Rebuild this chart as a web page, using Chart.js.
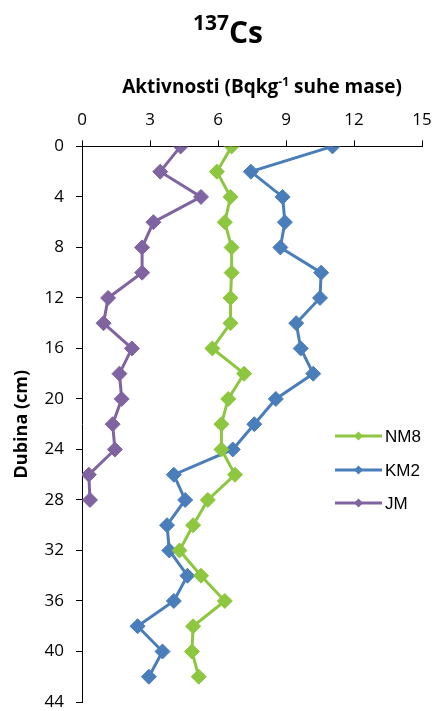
<!DOCTYPE html>
<html>
<head>
<meta charset="utf-8">
<title>137Cs</title>
<script src="https://cdn.jsdelivr.net/npm/chart.js@4.4.1/dist/chart.umd.min.js"></script>
<style>
    html, body { margin: 0; padding: 0; background: #fff; }
    #wrap { position: relative; width: 437px; height: 711px; }
</style>
</head>
<body>
<div id="wrap"><canvas id="csChart"></canvas></div>
<script>
// depth (cm) of each sample
const depths = [0, 2, 4, 6, 8, 10, 12, 14, 16, 18, 20, 22, 24, 26, 28, 30, 32, 34, 36, 38, 40, 42];
const jmDepths = [0, 2, 4, 6, 8, 10, 12, 14, 16, 18, 20, 22, 24, 26, 28];

// activity (Bq/kg dry mass)
const nm8 = [6.6, 5.95, 6.55, 6.3, 6.6, 6.6, 6.55, 6.55, 5.75, 7.15, 6.45, 6.15, 6.15, 6.75, 5.55, 4.9, 4.3, 5.25, 6.3, 4.9, 4.85, 5.15];
const km2 = [11.05, 7.45, 8.85, 8.95, 8.75, 10.55, 10.5, 9.45, 9.65, 10.2, 8.55, 7.6, 6.65, 4.05, 4.55, 3.75, 3.85, 4.65, 4.05, 2.45, 3.55, 2.95];
const jm = [4.35, 3.45, 5.25, 3.15, 2.65, 2.65, 1.15, 0.95, 2.2, 1.65, 1.75, 1.35, 1.45, 0.3, 0.35];

const xTickValues = [0, 3, 6, 9, 12, 15];
const yTickValues = [0, 4, 8, 12, 16, 20, 24, 28, 32, 36, 40, 44];

const seriesNames = ['NM8', 'KM2', 'JM'];
const seriesColors = ['#8DC63F', '#4A7EBB', '#8064A2'];

const toPoints = (vals, ds) => vals.map((v, i) => ({ x: v, y: ds[i] }));

function makeSeries(name, vals, ds, color) {
    return {
        label: name,
        data: toPoints(vals, ds),
        borderColor: color,
        backgroundColor: color,
        borderWidth: 3,
        pointStyle: 'rectRot',
        pointRadius: 7.5,
        pointBorderWidth: 1,
        pointBackgroundColor: color,
        pointBorderColor: color,
        tension: 0,
    };
}

// title, x axis title and the floating legend
const decorPlugin = {
    id: 'decor',
    afterDraw(chart) {
        const ctx = chart.ctx;
        ctx.save();
        ctx.fillStyle = '#000';
        ctx.textBaseline = 'alphabetic';
        ctx.textAlign = 'left';

        // title: 137Cs
        ctx.font = 'bold 21px "Open Sans"';
        const supW = ctx.measureText('137').width;
        ctx.font = 'bold 30px "Open Sans"';
        const mainW = ctx.measureText('Cs').width;
        let tx = 228 - (supW + mainW) / 2;
        ctx.font = 'bold 21px "Open Sans"';
        ctx.fillText('137', tx, 30);
        ctx.font = 'bold 30px "Open Sans"';
        ctx.fillText('Cs', tx + supW, 43);

        // x axis title with superscript -1
        const parts = [['Aktivnosti (Bqkg', 19, 0], ['-1', 12, -7], [' suhe mase)', 19, 0]];
        let total = 0;
        parts.forEach(p => { ctx.font = 'bold ' + p[1] + 'px "Open Sans"'; total += ctx.measureText(p[0]).width; });
        let ax = 262 - total / 2;
        parts.forEach(p => {
            ctx.font = 'bold ' + p[1] + 'px "Open Sans"';
            ctx.fillText(p[0], ax, 93 + p[2]);
            ax += ctx.measureText(p[0]).width;
        });

        // legend
        const legendY = [436, 470, 503];
        chart.data.datasets.forEach((ds, i) => {
            const y = legendY[i];
            ctx.strokeStyle = ds.borderColor;
            ctx.lineWidth = 3;
            ctx.beginPath();
            ctx.moveTo(335, y);
            ctx.lineTo(382, y);
            ctx.stroke();
            ctx.fillStyle = ds.borderColor;
            ctx.beginPath();
            ctx.moveTo(358.5 - 4.5, y);
            ctx.lineTo(358.5, y - 4.5);
            ctx.lineTo(358.5 + 4.5, y);
            ctx.lineTo(358.5, y + 4.5);
            ctx.closePath();
            ctx.fill();
            ctx.fillStyle = '#000';
            ctx.font = '17px "Liberation Sans"';
            ctx.textBaseline = 'middle';
            ctx.fillText(ds.label, 385, y + 1);
        });
        ctx.restore();
    }
};

new Chart(document.getElementById('csChart'), {
    type: 'line',
    data: {
        datasets: [
            makeSeries(seriesNames[0], nm8, depths, seriesColors[0]),
            makeSeries(seriesNames[1], km2, depths, seriesColors[1]),
            makeSeries(seriesNames[2], jm, jmDepths, seriesColors[2]),
        ]
    },
    options: {
        responsive: true,
        maintainAspectRatio: false,
        animation: false,
        layout: { padding: { top: 100, right: 0, bottom: 0, left: 11 } },
        plugins: {
            legend: { display: false },
            tooltip: { enabled: false },
        },
        scales: {
            x: {
                type: 'linear',
                position: 'top',
                min: 0,
                max: 15,
                afterBuildTicks: (scale) => { scale.ticks = xTickValues.map(v => ({ value: v })); },
                afterFit: (scale) => { scale.paddingLeft = 0; scale.paddingRight = 15; },
                ticks: { color: '#000', font: { family: 'Open Sans', size: 17 }, padding: 10, maxRotation: 0 },
                grid: { drawOnChartArea: false, tickLength: 6, color: '#000' },
                border: { color: '#000', width: 1 },
            },
            y: {
                type: 'linear',
                reverse: true,
                min: 0,
                max: 44,
                afterBuildTicks: (scale) => { scale.ticks = yTickValues.map(v => ({ value: v })); },
                afterFit: (scale) => { scale.paddingTop = 0; scale.paddingBottom = 9; },
                ticks: { color: '#000', font: { family: 'Open Sans', size: 17, lineHeight: 1 }, padding: 12 },
                grid: { drawOnChartArea: false, tickLength: 6, color: '#000' },
                border: { color: '#000', width: 1 },
                title: {
                    display: true,
                    text: 'Dubina (cm)',
                    color: '#000',
                    font: { family: 'Open Sans', size: 18, weight: 'bold' },
                    padding: { top: 0, bottom: 0 },
                },
            },
        },
    },
    plugins: [decorPlugin],
});
</script>
</body>
</html>
